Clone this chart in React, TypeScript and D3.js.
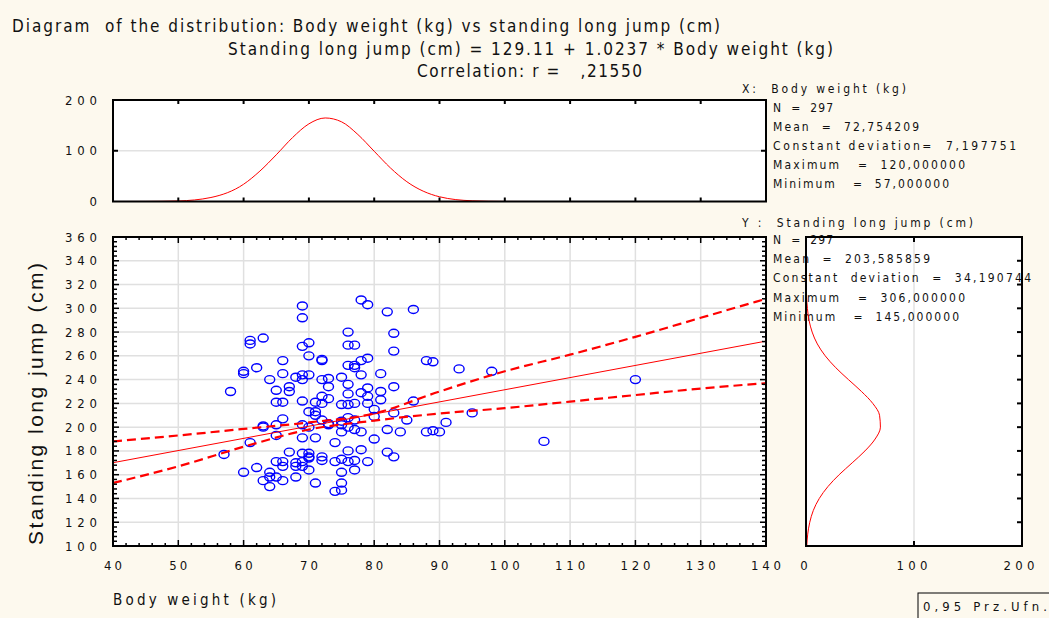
import React from 'react';
import * as d3 from 'd3';

const W = 1049;
const H = 618;
const BG = '#fdf9ee';
const NARROW = "'Liberation Sans Narrow','DejaVu Sans Condensed','Arial Narrow',sans-serif";
const REG = "'Liberation Sans',Arial,sans-serif";

// scatter data: body weight (kg) and standing long jump (cm)
const weights = [
  69, 69, 61, 61, 63, 69, 70, 70, 72, 72, 66, 60, 60, 62, 64, 58,
  78, 79, 82, 86, 76, 83, 76, 77, 83, 76, 77, 78, 79, 77, 88, 89, 93, 86,
  57, 61, 63, 63, 60, 62, 64, 64, 63, 64,
  85, 91, 88, 89, 90,
  98, 95, 106, 120,
  66, 68, 69, 70, 69, 72, 73, 75, 78, 81, 65, 67, 67, 73, 76, 76, 79, 78, 81, 83,
  72, 73, 65, 66, 69, 71, 72, 75, 76, 77, 79, 79, 81, 70, 71, 71, 66, 76, 77, 72,
  73, 75, 83, 80, 80, 65, 65, 69, 70, 73, 75, 75, 76, 77, 78, 82, 84, 69, 71, 74,
  80, 67, 69, 70, 76, 78, 82, 83, 65, 66, 68, 69, 70, 70, 72, 72, 74, 75, 76, 77,
  79, 66, 68, 69, 70, 75, 77, 65, 66, 68, 71, 75, 75, 74,
];
const jumps = [
  302, 292, 273, 270, 275, 268, 271, 260, 257, 256, 256, 247, 245, 250, 240, 230,
  307, 303, 297, 299, 280, 279, 269, 269, 264, 252, 252, 256, 258, 250, 256, 255, 249, 222,
  177, 187, 201, 200, 162, 166, 162, 158, 155, 150,
  206, 204, 196, 197, 196,
  247, 212, 188, 240,
  245, 242, 244, 244, 240, 240, 241, 242, 244, 245, 231, 234, 230, 234, 236, 228, 233, 229, 230, 234,
  226, 224, 221, 221, 222, 221, 220, 219, 219, 220, 220, 226, 223, 213, 213, 210, 207, 208, 206, 206,
  203, 205, 212, 209, 215, 202, 193, 202, 200, 202, 202, 196, 200, 198, 196, 198, 196, 191, 191, 187,
  190, 179, 178, 178, 180, 181, 179, 175, 171, 171, 170, 171, 175, 174, 175, 172, 171, 173, 171, 172,
  171, 167, 167, 167, 164, 162, 164, 158, 155, 158, 153, 153, 147, 146,
];

// regression line and confidence band
const regX = [40, 140];
const regY = [170.1, 272.4];
const bandX = [40, 50, 60, 70, 80, 90, 100, 110, 120, 130, 140];
const bandUpper = [188, 193, 198.5, 204, 211.5, 230, 247, 261, 276, 292, 308];
const bandLower = [153, 167, 183.5, 198, 205.5, 211.5, 216, 221.5, 227, 232.5, 237];

// fitted distribution of body weight (top panel)
const weightFitX = [40, 45, 50, 55, 60, 62.5, 65, 67.5, 70, 72.5, 75, 77.5, 80, 82.5, 85, 90, 95, 100, 105, 140];
const weightFitCount = [0, 0.1, 1.1, 7.9, 34, 60, 92, 126, 153, 164.6, 157, 132, 99, 66, 39, 9.3, 1.4, 0.1, 0, 0];

// fitted distribution of standing long jump (right panel)
const jumpFitY = [100, 110, 120, 130, 140, 150, 160, 170, 180, 190, 200, 210, 220, 230, 240, 250, 260, 270, 280, 290, 300, 310, 320, 330, 340, 350, 360];
const jumpFitCount = [0.7, 1.6, 3.5, 6.8, 12.3, 20.3, 30.7, 42.8, 54.6, 64, 68.9, 68.1, 61.8, 51.4, 39.3, 27.6, 17.8, 10.5, 5.7, 2.8, 1.3, 0.55, 0.2, 0.1, 0.03, 0.01, 0];

const xTicks = [40, 50, 60, 70, 80, 90, 100, 110, 120, 130, 140];
const yTicks = [100, 120, 140, 160, 180, 200, 220, 240, 260, 280, 300, 320, 340, 360];
const topTicks = [0, 100, 200];
const rightTicks = [0, 100, 200];

const titleLines = [
  'Diagram  of the distribution: Body weight (kg) vs standing long jump (cm)',
  'Standing long jump (cm) = 129.11 + 1.0237 * Body weight (kg)',
  'Correlation: r =   ,21550',
];
const statsXLines = [
  'N  =  297',
  'Mean  =  72,754209',
  'Constant deviation=  7,197751',
  'Maximum   =  120,000000',
  'Minimum   =  57,000000',
];
const statsYLines = [
  'N  =  297',
  'Mean  =  203,585859',
  'Constant  deviation  =  34,190744',
  'Maximum   =  306,000000',
  'Minimum   =  145,000000',
];

function T(props: any) {
  const { x, y, len, anchor = 'start', size = 12, family = NARROW, children, transform } = props;
  return (
    <text
      x={x}
      y={y}
      fontSize={size}
      fontFamily={family}
      textAnchor={anchor}
      fill="#111"
      textLength={len}
      lengthAdjust={len ? 'spacing' : undefined}
      transform={transform}
      style={{ whiteSpace: 'pre' }}
    >
      {children}
    </text>
  );
}

export default function App() {
  const x = d3.scaleLinear().domain([40, 140]).range([113, 766]);
  const y = d3.scaleLinear().domain([100, 360]).range([546, 237]);
  const ty = d3.scaleLinear().domain([0, 200]).range([201.5, 100]);
  const rx = d3.scaleLinear().domain([0, 200]).range([806, 1022]);

  const lineXY = d3.line<[number, number]>().x((d) => x(d[0])).y((d) => y(d[1])).curve(d3.curveMonotoneX);
  const upperPath = lineXY(bandX.map((v, i) => [v, bandUpper[i]]));
  const lowerPath = lineXY(bandX.map((v, i) => [v, bandLower[i]]));
  const regPath = d3.line<[number, number]>().x((d) => x(d[0])).y((d) => y(d[1]))(regX.map((v, i) => [v, regY[i]]));

  const topPath = d3
    .line<[number, number]>()
    .x((d) => x(d[0]))
    .y((d) => ty(d[1]))
    .curve(d3.curveMonotoneX)(weightFitX.map((v, i) => [v, weightFitCount[i]]));
  const rightPath = d3
    .line<[number, number]>()
    .x((d) => rx(d[1]))
    .y((d) => y(d[0]))
    .curve(d3.curveMonotoneY)(jumpFitY.map((v, i) => [v, jumpFitCount[i]]));

  const xMinor = d3.range(40, 141, 2);
  const yMinor = d3.range(100, 361, 4);
  const rightMajor = d3.range(100, 361, 20);

  const [sx0, sx1] = x.range();
  const [sy1, sy0] = y.range();

  return (
    <svg width={W} height={H} style={{ position: 'absolute', left: 0, top: 0, background: BG }}>
      <rect x={0} y={0} width={W} height={H} fill={BG} />

      {/* titles */}
      <T x={12} y={32} size={17} len={708}>{titleLines[0]}</T>
      <T x={228} y={55} size={17} len={605}>{titleLines[1]}</T>
      <T x={417} y={77} size={17} len={225}>{titleLines[2]}</T>

      {/* top panel */}
      <rect x={sx0} y={ty(200)} width={sx1 - sx0} height={ty(0) - ty(200)} fill="#fff" />
      <line x1={sx0} x2={sx1} y1={ty(100)} y2={ty(100)} stroke="#e2e2e2" strokeWidth={1.5} />
      <path d={topPath || ''} fill="none" stroke="#ff0000" strokeWidth={1} />
      {xTicks.slice(1, -1).map((t) => (
        <g key={'tt' + t}>
          <line x1={x(t)} x2={x(t)} y1={ty(200)} y2={ty(200) + 4} stroke="#000" strokeWidth={2} />
          <line x1={x(t)} x2={x(t)} y1={ty(0)} y2={ty(0) - 4} stroke="#000" strokeWidth={2} />
        </g>
      ))}
      <line x1={sx0} x2={sx0 + 5} y1={ty(100)} y2={ty(100)} stroke="#000" strokeWidth={2} />
      <line x1={sx1} x2={sx1 - 5} y1={ty(100)} y2={ty(100)} stroke="#000" strokeWidth={2} />
      <rect x={sx0} y={ty(200)} width={sx1 - sx0} height={ty(0) - ty(200)} fill="none" stroke="#000" strokeWidth={2} />
      {topTicks.map((t) => (
        <T key={'tl' + t} x={97} y={ty(t) + 4.5} size={13} anchor="end" len={t >= 100 ? 32 : undefined}>
          {String(t)}
        </T>
      ))}

      {/* stats X */}
      <T x={742} y={93} size={12} len={164}>{'X:  Body weight (kg)'}</T>
      {statsXLines.map((s, i) => (
        <T key={'sx' + i} x={773} y={112 + i * 19} size={12} len={[60, 146, 243, 192, 176][i]}>
          {s}
        </T>
      ))}

      {/* scatter panel */}
      <rect x={sx0} y={sy0} width={sx1 - sx0} height={sy1 - sy0} fill="#fff" />
      {xTicks.slice(1, -1).map((t) => (
        <line key={'gx' + t} x1={x(t)} x2={x(t)} y1={sy0} y2={sy1} stroke="#e0e0e0" strokeWidth={1.5} />
      ))}
      {yTicks.slice(1, -1).map((t) => (
        <line key={'gy' + t} x1={sx0} x2={sx1} y1={y(t)} y2={y(t)} stroke="#e0e0e0" strokeWidth={1.5} />
      ))}
      {weights.map((w, i) => (
        <ellipse key={'p' + i} cx={x(w)} cy={y(jumps[i])} rx={5} ry={4} fill="none" stroke="#0000ff" strokeWidth={1.4} />
      ))}
      <path d={regPath || ''} fill="none" stroke="#ff0000" strokeWidth={1} />
      <path d={upperPath || ''} fill="none" stroke="#ff0000" strokeWidth={2.2} strokeDasharray="9 5" />
      <path d={lowerPath || ''} fill="none" stroke="#ff0000" strokeWidth={2.2} strokeDasharray="9 5" />
      {xMinor.map((t) => {
        const major = t % 10 === 0;
        const l = major ? 6 : 3;
        return (
          <g key={'xm' + t}>
            <line x1={x(t)} x2={x(t)} y1={sy1} y2={sy1 - l} stroke="#000" strokeWidth={1.5} />
            <line x1={x(t)} x2={x(t)} y1={sy0} y2={sy0 + l} stroke="#000" strokeWidth={1.5} />
          </g>
        );
      })}
      {yMinor.map((t) => {
        const major = t % 20 === 0;
        const l = major ? 6 : 4;
        return (
          <g key={'ym' + t}>
            <line x1={sx0} x2={sx0 + l} y1={y(t)} y2={y(t)} stroke="#000" strokeWidth={1.5} />
            <line x1={sx1} x2={sx1 - l} y1={y(t)} y2={y(t)} stroke="#000" strokeWidth={1.5} />
          </g>
        );
      })}
      <rect x={sx0} y={sy0} width={sx1 - sx0} height={sy1 - sy0} fill="none" stroke="#000" strokeWidth={2} />
      {yTicks.map((t) => (
        <T key={'yl' + t} x={97} y={y(t) + 4.5} size={13} anchor="end" len={32}>
          {String(t)}
        </T>
      ))}
      {xTicks.map((t) => (
        <T key={'xl' + t} x={x(t)} y={570} size={13} anchor="middle" len={t >= 100 ? 30 : 18}>
          {String(t)}
        </T>
      ))}
      <T x={113} y={605} size={15} len={163}>{'Body weight (kg)'}</T>
      <T
        x={0}
        y={0}
        size={21}
        family={REG}
        anchor="middle"
        len={282}
        transform={`translate(43,${(262 + 546) / 2}) rotate(-90)`}
      >
        {'Standing long jump (cm)'}
      </T>

      {/* right panel */}
      <rect x={rx(0)} y={sy0} width={rx(200) - rx(0)} height={sy1 - sy0} fill="#fff" />
      <line x1={rx(100)} x2={rx(100)} y1={sy0} y2={sy1} stroke="#e2e2e2" strokeWidth={1.5} />
      <T x={742} y={227} size={12} len={231}>{'Y :  Standing long jump (cm)'}</T>
      {statsYLines.map((s, i) => (
        <T key={'sy' + i} x={773} y={244 + i * 19.2} size={12} len={[60, 157, 258, 192, 186][i]}>
          {s}
        </T>
      ))}
      <path d={rightPath || ''} fill="none" stroke="#ff0000" strokeWidth={1} />
      {rightMajor.map((t) => (
        <line key={'rm' + t} x1={rx(200)} x2={rx(200) - 5} y1={y(t)} y2={y(t)} stroke="#000" strokeWidth={2} />
      ))}
      <line x1={rx(100)} x2={rx(100)} y1={sy0} y2={sy0 + 5} stroke="#000" strokeWidth={2} />
      <line x1={rx(100)} x2={rx(100)} y1={sy1} y2={sy1 - 5} stroke="#000" strokeWidth={2} />
      <rect x={rx(0)} y={sy0} width={rx(200) - rx(0)} height={sy1 - sy0} fill="none" stroke="#000" strokeWidth={2} />
      {rightTicks.map((t) => (
        <T key={'rl' + t} x={rx(t) - (t === 0 ? 2 : t === 200 ? 3 : 2)} y={570} size={13} anchor="middle" len={t > 0 ? 31 : undefined}>
          {String(t)}
        </T>
      ))}

      {/* legend box */}
      <rect x={918} y={593} width={140} height={30} fill="none" stroke="#000" strokeWidth={1} />
      <T x={923} y={611} size={13} len={124}>{'0,95 Prz.Ufn.'}</T>
    </svg>
  );
}
